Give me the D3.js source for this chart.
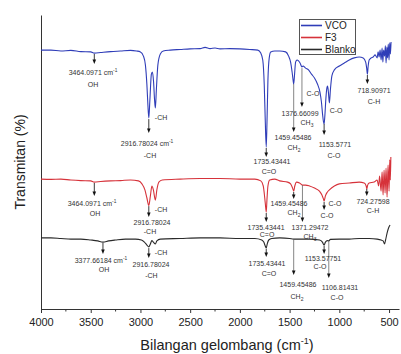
<!DOCTYPE html>
<html>
<head>
<meta charset="utf-8">
<script src="https://cdn.jsdelivr.net/npm/d3@7"></script>
<style>
  body { margin: 0; background: #fff; }
  svg { font-family: "Liberation Sans", Arial, sans-serif; }
</style>
</head>
<body>
<div id="chart"></div>
<script>
// FTIR spectra, [wavenumber cm-1, transmittance (offset, %)]
const seriesNames = ["VCO", "F3", "Blanko"];
const seriesColors = ["#2f3db8", "#d6323a", "#2a2a2a"];

const vco = [[4000,86.3],[3900,86.3],[3800,86.0],[3700,86.2],[3600,85.8],[3500,85.7],[3464,85.3],[3400,85.5],[3300,85.8],[3200,86.0],[3100,86.2],[3040,86.0],[3000,85.7],[2970,84.3],[2950,81.3],[2935,74.7],[2925,68.0],[2916,63.7],[2905,69.7],[2890,78.3],[2880,79.0],[2868,75.7],[2858,69.7],[2850,67.0],[2840,73.0],[2825,81.3],[2800,85.0],[2770,86.0],[2700,86.3],[2600,86.5],[2500,86.7],[2400,86.8],[2350,87.2],[2300,86.8],[2250,87.0],[2200,86.7],[2100,86.8],[2000,86.7],[1900,86.5],[1820,86.3],[1790,85.3],[1770,83.0],[1755,74.7],[1745,63.0],[1735,54.0],[1727,63.0],[1718,76.3],[1705,83.7],[1690,85.7],[1650,86.0],[1600,86.0],[1540,85.7],[1510,84.3],[1490,82.3],[1475,79.0],[1465,76.3],[1459,75.0],[1450,78.3],[1440,82.3],[1425,83.0],[1410,82.7],[1395,82.0],[1376,80.7],[1365,81.0],[1340,80.3],[1310,79.7],[1280,78.3],[1250,77.0],[1220,75.0],[1195,72.3],[1180,69.0],[1168,64.7],[1160,62.5],[1153,61.7],[1145,64.7],[1135,70.3],[1125,73.7],[1118,74.3],[1110,72.3],[1100,68.7],[1090,73.0],[1075,77.7],[1050,79.7],[1000,81.0],[950,82.0],[900,83.0],[850,83.7],[800,84.0],[760,83.7],[735,82.3],[725,80.3],[718,78.3],[710,81.0],[700,83.0],[680,83.7],[660,84.0],[640,84.7],[620,83.7],[610,85.7],[600,84.0],[590,86.3],[580,83.0],[570,87.0],[562,82.3],[555,86.3],[545,84.3],[537,87.7],[530,82.0],[522,87.3],[515,83.7],[508,88.3],[500,83.0],[493,88.7],[486,85.0],[480,89.0]];

const f3 = [[4000,43.3],[3900,43.2],[3800,43.3],[3700,43.0],[3600,42.8],[3500,42.7],[3464,42.3],[3400,42.5],[3300,42.7],[3200,42.8],[3100,43.0],[3020,42.7],[2985,41.7],[2955,39.7],[2935,37.0],[2916,34.5],[2900,37.7],[2885,41.0],[2870,39.7],[2850,36.3],[2835,39.7],[2815,42.3],[2780,43.0],[2600,43.3],[2400,43.5],[2200,43.5],[2000,43.3],[1850,43.3],[1790,42.7],[1765,41.0],[1750,37.0],[1740,33.7],[1735,32.3],[1728,36.3],[1718,41.0],[1700,43.0],[1650,43.3],[1600,42.7],[1520,42.3],[1490,41.7],[1470,40.3],[1459,39.3],[1448,41.0],[1430,42.3],[1400,42.0],[1371,41.3],[1340,41.3],[1300,41.0],[1250,40.3],[1200,39.3],[1175,38.0],[1160,36.7],[1153,36.0],[1140,37.7],[1120,39.0],[1100,39.7],[1050,41.0],[1000,41.7],[900,42.0],[800,42.3],[750,42.0],[730,41.0],[724,40.0],[715,41.3],[700,42.0],[650,42.3],[620,43.0],[605,41.0],[595,44.3],[580,39.3],[570,45.7],[560,38.0],[550,46.3],[540,38.7],[530,47.0],[520,37.3],[510,48.0],[500,39.3],[493,49.7],[487,43.0],[482,50.7]];

const blanko = [[4000,23.7],[3900,23.7],[3800,23.5],[3700,23.3],[3600,23.3],[3500,23.0],[3430,22.7],[3377,22.3],[3320,22.7],[3250,23.0],[3150,23.3],[3050,23.3],[2990,23.0],[2960,22.3],[2935,21.3],[2916,20.7],[2900,21.7],[2885,22.8],[2870,22.3],[2850,21.7],[2835,22.7],[2800,23.3],[2600,23.5],[2400,23.7],[2200,23.7],[2000,23.5],[1850,23.5],[1780,23.0],[1760,22.3],[1745,21.0],[1735,20.3],[1725,21.7],[1710,23.0],[1680,23.5],[1600,23.7],[1500,23.5],[1460,23.3],[1400,23.3],[1300,23.3],[1200,23.0],[1170,22.3],[1153,21.3],[1140,22.3],[1120,22.8],[1106,22.7],[1090,23.2],[1000,23.3],[900,23.3],[800,23.5],[700,23.5],[620,23.3],[580,23.0],[560,22.7],[545,21.7],[535,23.0],[520,25.3],[505,27.0],[490,28.0]];

const xTicks = [4000, 3500, 3000, 2500, 2000, 1500, 1000, 500];
const xMinorTicks = [3750, 3250, 2750, 2250, 1750, 1250, 750];

// peak markers: [wavenumber, from, to, long line?]
const arrows = [
  [3464, 85.0, 81.7, false], [2916, 63.3, 58.7, false], [1735, 53.7, 50.7, false],
  [1459, 75.0, 59.0, true], [1376, 80.3, 67.3, true], [1153, 61.7, 58.0, false], [718, 78.0, 75.0, false],
  [3464, 42.0, 37.7, false], [2916, 34.3, 30.7, false], [1735, 32.0, 29.0, false],
  [1459, 39.0, 36.7, false], [1371, 41.3, 29.0, true], [1153, 35.7, 33.0, false], [724, 40.0, 37.7, false],
  [3377, 22.0, 18.3, false], [2916, 20.3, 17.0, false], [1735, 20.0, 17.3, false],
  [1459, 23.3, 11.3, true], [1153, 21.0, 18.3, false], [1106, 22.7, 10.3, true]
];

// labels: [wavenumber, transmittance, text]  (^ superscript, _ subscript)
const labels = [
  [3477, 78.7, "3464.0971 cm^-1"], [3477, 74.7, "OH"], [2793, 63.7, "-CH"],
  [2934, 55.3, "2916.78024 cm^-1"], [2904, 51.0, "-CH"],
  [1677, 49.0, "1735.43441"], [1707, 45.7, "C=O"],
  [1466, 57.3, "1459.45486"], [1456, 53.7, "CH_2"],
  [1395, 65.3, "1376.66099"], [1325, 62.3, "CH_3"],
  [1265, 71.7, "C-O"], [1033, 66.0, "C-O"],
  [1044, 54.7, "1153.5771"], [1054, 51.0, "C-O"],
  [651, 72.7, "718.90971"], [651, 69.3, "C-H"],

  [3487, 35.3, "3464.0971 cm^-1"], [3457, 31.7, "OH"], [2793, 33.0, "-CH"],
  [2884, 28.7, "2916.78024"], [2904, 25.7, "-CH"],
  [1737, 27.0, "1735.43441"], [1727, 24.7, "C=O"],
  [1506, 35.3, "1459.45486"], [1456, 32.0, "CH_2"],
  [1295, 27.0, "1371.29472"], [1295, 24.3, "CH_3"],
  [1044, 35.3, "C-O"], [1124, 31.0, "C-O"],
  [661, 35.7, "724.27598"], [661, 32.7, "C-H"],

  [3397, 16.3, "3377.66184 cm^-1"], [3366, 13.0, "OH"], [2793, 18.7, "-CH"],
  [2894, 14.7, "2916.78024"], [2890, 11.0, "-CH"],
  [1727, 15.3, "1735.43441"], [1707, 11.7, "C=O"],
  [1416, 8.3, "1459.45486"], [1426, 4.0, "CH_2"],
  [1164, 16.7, "1153.57751"], [1194, 14.0, "C-O"],
  [993, 7.3, "1106.81431"], [1023, 3.7, "C-O"]
];

const width = 401, height = 354;
const margin = { top: 15, right: 2, bottom: 45, left: 41 };

const x = d3.scaleLinear().domain([4000, 400]).range([margin.left, width - margin.right]);
const y = d3.scaleLinear().domain([0, 98]).range([height - margin.bottom, margin.top]);

const svg = d3.select("#chart").append("svg")
  .attr("width", width)
  .attr("height", height);

// axes
const xAxis = svg.append("g")
  .attr("transform", `translate(0,${y(0)})`)
  .call(d3.axisBottom(x).tickValues(xTicks).tickSize(4).tickSizeOuter(0).tickFormat(d3.format("d")));
xAxis.selectAll(".tick text").attr("font-size", 11).attr("fill", "#222").attr("dy", "0.9em");
xAxis.selectAll("path, line").attr("stroke", "#333");

svg.append("g")
  .attr("transform", `translate(0,${y(0)})`)
  .selectAll("line")
  .data(xMinorTicks)
  .join("line")
  .attr("x1", d => x(d)).attr("x2", d => x(d))
  .attr("y1", 0).attr("y2", 2.5)
  .attr("stroke", "#333");

const yAxis = svg.append("g")
  .attr("transform", `translate(${margin.left},0)`)
  .call(d3.axisLeft(y).tickValues([]).tickSizeOuter(0));
yAxis.select("path").attr("stroke", "#333");

svg.append("text")
  .attr("transform", `translate(25,${(y(0) + y(98)) / 2}) rotate(-90)`)
  .attr("text-anchor", "middle")
  .attr("font-size", 14)
  .attr("fill", "#222")
  .text("Transmitan (%)");

const xLabel = svg.append("text")
  .attr("x", 227)
  .attr("y", 350)
  .attr("text-anchor", "middle")
  .attr("font-size", 14.5)
  .attr("fill", "#222");
xLabel.append("tspan").text("Bilangan gelombang (cm");
xLabel.append("tspan").attr("font-size", 9).attr("dy", -6).text("-1");
xLabel.append("tspan").attr("dy", 6).text(")");

// spectra
const line = d3.line().x(d => x(d[0])).y(d => y(d[1])).curve(d3.curveMonotoneX);
const allSeries = [blanko, f3, vco];
const allColors = [seriesColors[2], seriesColors[1], seriesColors[0]];

svg.append("g")
  .selectAll("path")
  .data(allSeries)
  .join("path")
  .attr("d", line)
  .attr("fill", "none")
  .attr("stroke", (d, i) => allColors[i])
  .attr("stroke-width", 1.1);

// peak arrows
const ag = svg.append("g");
arrows.forEach(a => {
  let ax = x(a[0]), y1 = y(a[1]), y2 = y(a[2]);
  ag.append("line")
    .attr("x1", ax).attr("x2", ax)
    .attr("y1", y1).attr("y2", y2 - 3)
    .attr("stroke", a[3] ? "#666" : "#222")
    .attr("stroke-width", a[3] ? 0.8 : 0.9);
  ag.append("path")
    .attr("d", `M${ax - 1.8},${y2 - 4.5}L${ax + 1.8},${y2 - 4.5}L${ax},${y2}Z`)
    .attr("fill", "#111");
});

// peak labels
const lg = svg.append("g")
  .attr("font-size", 7)
  .attr("fill", "#333")
  .attr("text-anchor", "middle");

labels.forEach(l => {
  let t = lg.append("text")
    .attr("x", x(l[0]))
    .attr("y", y(l[1]))
    .attr("dy", "0.35em");
  let parts = l[2].split(/(\^\S+|_\d+)/).filter(p => p.length);
  parts.forEach(p => {
    if (p[0] == "^") {
      t.append("tspan").attr("font-size", 4.8).attr("dy", -3).text(p.slice(1));
    } else if (p[0] == "_") {
      t.append("tspan").attr("font-size", 5).attr("dy", 2).text(p.slice(1));
    } else {
      t.append("tspan").text(p);
    }
  });
});

// legend
const legend = svg.append("g");
legend.append("rect")
  .attr("x", 299.5).attr("y", 19.5)
  .attr("width", 56).attr("height", 35)
  .attr("fill", "#fff")
  .attr("stroke", "#555");
seriesNames.forEach((name, i) => {
  let ly = 25.5 + i * 12;
  legend.append("line")
    .attr("x1", 301).attr("x2", 322)
    .attr("y1", ly).attr("y2", ly)
    .attr("stroke", seriesColors[i])
    .attr("stroke-width", 1.6);
  legend.append("text")
    .attr("x", 325).attr("y", ly + 3.6)
    .attr("font-size", 10)
    .attr("fill", "#222")
    .text(name);
});
</script>
</body>
</html>
